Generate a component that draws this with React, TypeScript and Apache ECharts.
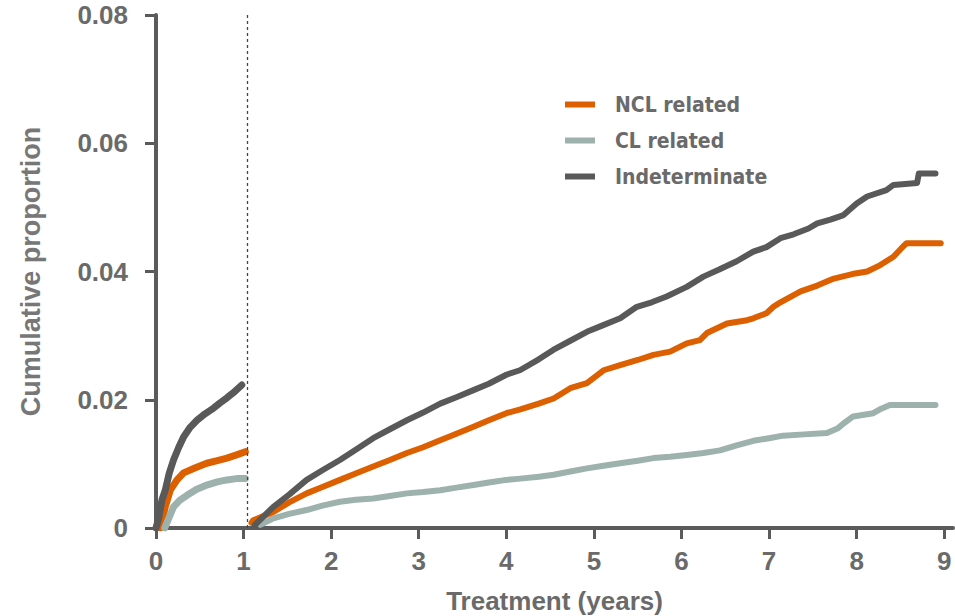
import React, { useEffect, useRef } from "react";
import * as echarts from "echarts";

// Cumulative proportion by treatment year: [years, proportion]
const nclYear1: [number, number][] = [
  [0.05, 0], [0.106, 0.0033], [0.163, 0.0059], [0.24, 0.0075], [0.315, 0.0086],
  [0.45, 0.0094], [0.58, 0.0101], [0.7, 0.0105], [0.81, 0.0109], [0.92, 0.0114], [1.02, 0.0119],
];
const clYear1: [number, number][] = [
  [0.1, 0], [0.2, 0.0033], [0.27, 0.0043], [0.354, 0.0051], [0.46, 0.006],
  [0.58, 0.0067], [0.7, 0.0072], [0.81, 0.0075], [0.92, 0.0077], [1.02, 0.0077],
];
const indetYear1: [number, number][] = [
  [0, 0], [0.03, 0.0015], [0.068, 0.0044], [0.106, 0.0059], [0.15, 0.0085], [0.2, 0.0106],
  [0.26, 0.0126], [0.315, 0.0142], [0.39, 0.0157], [0.468, 0.0168], [0.56, 0.0178],
  [0.658, 0.0187], [0.73, 0.0195], [0.81, 0.0203], [0.9, 0.0213], [0.98, 0.0223],
];

const nclLater: [number, number][] = [
  [1.09, 0.0008], [1.11, 0.0012], [1.34, 0.0025], [1.52, 0.004], [1.72, 0.0054], [1.9, 0.0064],
  [2.1, 0.0075], [2.28, 0.0085], [2.48, 0.0096], [2.67, 0.0106], [2.865, 0.0117], [3.05, 0.0126],
  [3.245, 0.0137], [3.43, 0.0147], [3.625, 0.0158], [3.8, 0.0168], [4.0, 0.0179], [4.16, 0.0185],
  [4.37, 0.0194], [4.54, 0.0202], [4.73, 0.0218], [4.92, 0.0226], [5.11, 0.0246], [5.3, 0.0254],
  [5.5, 0.0262], [5.68, 0.027], [5.87, 0.0275], [6.06, 0.0288], [6.21, 0.0293], [6.29, 0.0304],
  [6.52, 0.0319], [6.75, 0.0324], [6.82, 0.0327], [6.97, 0.0335], [7.05, 0.0345], [7.13, 0.0352],
  [7.36, 0.0369], [7.55, 0.0378], [7.74, 0.0389], [7.95, 0.0396], [8.12, 0.04], [8.27, 0.041],
  [8.42, 0.0423], [8.53, 0.0439], [8.57, 0.0444], [8.96, 0.0444],
];
const clLater: [number, number][] = [
  [1.19, 0.0005], [1.34, 0.0015], [1.52, 0.0022], [1.72, 0.0028], [1.9, 0.0035], [2.1, 0.0041],
  [2.28, 0.0044], [2.48, 0.0046], [2.67, 0.005], [2.865, 0.0054], [3.05, 0.0056], [3.245, 0.0059],
  [3.43, 0.0063], [3.625, 0.0067], [3.8, 0.0071], [4.0, 0.0075], [4.16, 0.0077], [4.37, 0.008],
  [4.54, 0.0083], [4.73, 0.0088], [4.92, 0.0093], [5.11, 0.0097], [5.3, 0.0101], [5.5, 0.0105],
  [5.68, 0.0109], [5.87, 0.0111], [6.06, 0.0114], [6.25, 0.0117], [6.44, 0.0121], [6.63, 0.0129],
  [6.82, 0.0136], [7.0, 0.014], [7.16, 0.0144], [7.4, 0.0146], [7.66, 0.0148], [7.78, 0.0155],
  [7.85, 0.0163], [7.96, 0.0174], [8.19, 0.0179], [8.28, 0.0186], [8.38, 0.0192], [8.9, 0.0192],
];
const indetLater: [number, number][] = [
  [1.13, 0.0005], [1.34, 0.0033], [1.52, 0.0052], [1.72, 0.0075], [1.9, 0.009], [2.1, 0.0106],
  [2.28, 0.0122], [2.48, 0.014], [2.67, 0.0154], [2.865, 0.0168], [3.05, 0.018], [3.245, 0.0194],
  [3.43, 0.0204], [3.625, 0.0215], [3.8, 0.0225], [4.0, 0.0239], [4.155, 0.0246], [4.37, 0.0263],
  [4.54, 0.0278], [4.73, 0.0292], [4.92, 0.0306], [5.1, 0.0316], [5.3, 0.0327], [5.49, 0.0345],
  [5.66, 0.0352], [5.83, 0.0361], [6.06, 0.0376], [6.25, 0.0392], [6.43, 0.0403], [6.63, 0.0416],
  [6.82, 0.0431], [6.97, 0.0438], [7.13, 0.0452], [7.28, 0.0458], [7.45, 0.0467], [7.55, 0.0475],
  [7.7, 0.0481], [7.85, 0.0488], [8.0, 0.0506], [8.12, 0.0517], [8.34, 0.0527], [8.42, 0.0535],
  [8.69, 0.0538], [8.71, 0.0553], [8.9, 0.0553],
];

const seriesNames = ["NCL related", "CL related", "Indeterminate"];
const seriesColors = ["#dc6000", "#9db2ac", "#595959"];
const yearTicks = [0, 1, 2, 3, 4, 5, 6, 7, 8, 9];
const yearOneBoundary = 1.04;

const axisGray = "#5b5b5b";
const labelGray = "#6a6a6a";
const labelFont = '"Liberation Sans Narrow", "Arial Narrow", "Liberation Sans", Arial, sans-serif';

export default function App() {
  const ref = useRef<HTMLDivElement>(null);

  useEffect(() => {
    if (!ref.current) return;
    const chart = echarts.init(ref.current, undefined, { renderer: "svg" });

    const segments = [
      { name: seriesNames[0], color: seriesColors[0], data: nclYear1, width: 7 },
      { name: seriesNames[1], color: seriesColors[1], data: clYear1, width: 7 },
      { name: seriesNames[2], color: seriesColors[2], data: indetYear1, width: 7 },
      { name: seriesNames[1], color: seriesColors[1], data: clLater, width: 6 },
      { name: seriesNames[0], color: seriesColors[0], data: nclLater, width: 6 },
      { name: seriesNames[2], color: seriesColors[2], data: indetLater, width: 6 },
    ];

    chart.setOption({
      animation: false,
      backgroundColor: "#ffffff",
      grid: { left: 156, right: 2, top: 15, bottom: 88, outerBoundsMode: "none" },
      legend: {
        data: seriesNames,
        orient: "vertical",
        left: 565,
        top: 94,
        padding: 0,
        icon: "rect",
        itemWidth: 30,
        itemHeight: 6,
        itemGap: 15,
        textStyle: {
          fontFamily: '"DejaVu Sans Condensed", "DejaVu Sans", sans-serif',
          fontWeight: "bold",
          fontSize: 21,
          color: labelGray,
          padding: [0, 0, 0, 15],
        },
      },
      xAxis: {
        type: "value",
        min: 0,
        max: 9.1,
        interval: 1,
        name: "Treatment (years)",
        nameLocation: "middle",
        nameGap: 60,
        nameTextStyle: { fontFamily: labelFont, fontWeight: "bold", fontSize: 26, color: labelGray },
        axisLine: { show: true, onZero: false, lineStyle: { color: axisGray, width: 4 } },
        axisTick: { show: true, customValues: yearTicks, length: 11, lineStyle: { color: axisGray, width: 3 } },
        axisLabel: {
          customValues: yearTicks,
          margin: 20,
          fontFamily: labelFont,
          fontWeight: "bold",
          fontSize: 26,
          color: labelGray,
        },
        splitLine: { show: false },
      },
      yAxis: {
        type: "value",
        min: 0,
        max: 0.08,
        interval: 0.02,
        name: "Cumulative proportion",
        nameLocation: "middle",
        nameGap: 112,
        nameTextStyle: { fontFamily: labelFont, fontWeight: "bold", fontSize: 27, color: "#777777" },
        axisLine: { show: true, lineStyle: { color: axisGray, width: 4 } },
        axisTick: { show: true, length: 11, lineStyle: { color: axisGray, width: 3 } },
        axisLabel: {
          margin: 28,
          fontFamily: labelFont,
          fontWeight: "bold",
          fontSize: 26,
          color: labelGray,
          formatter: (v: number) => (v === 0 ? "0" : v.toFixed(2)),
        },
        splitLine: { show: false },
      },
      series: segments.map((s, i) => ({
        type: "line",
        name: s.name,
        data: s.data,
        showSymbol: false,
        symbol: "none",
        color: s.color,
        lineStyle: { color: s.color, width: s.width, cap: "round", join: "round" },
        itemStyle: { color: s.color },
        z: 3,
        markLine:
          i === 0
            ? {
                silent: true,
                symbol: ["none", "none"],
                label: { show: false },
                lineStyle: { color: "#444444", width: 1.3, type: [3, 3] },
                data: [{ xAxis: yearOneBoundary }],
              }
            : undefined,
      })),
    });

    return () => chart.dispose();
  }, []);

  return (
    <div
      ref={ref}
      style={{ position: "absolute", left: 0, top: 0, width: 955, height: 616 }}
    />
  );
}
